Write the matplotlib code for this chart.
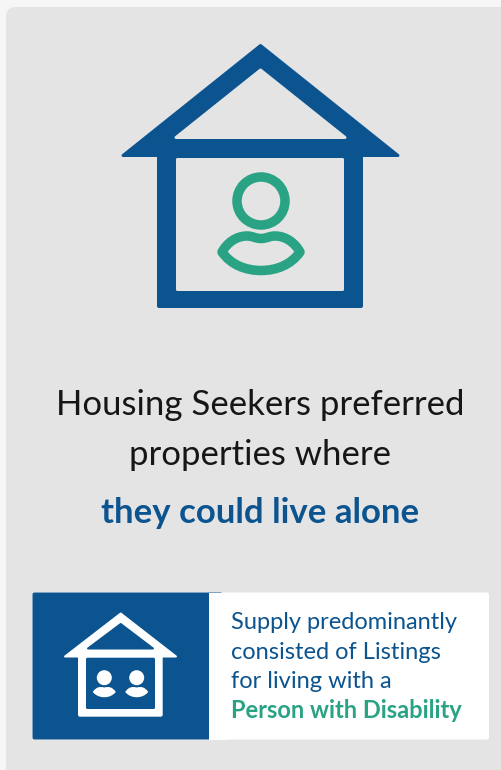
import matplotlib
matplotlib.use('Agg')
import matplotlib.pyplot as plt
from matplotlib.patches import FancyBboxPatch, Polygon, Rectangle, Circle, PathPatch
from matplotlib.path import Path

BLUE = '#0b548f'
GREEN = '#2aa384'
PANEL = '#e4e4e4'

main_lines = ['Housing Seekers preferred', 'properties where']
main_bold = 'they could live alone'
card_lines = ['Supply predominantly', 'consisted of Listings', 'for living with a']
card_bold = 'Person with Disability'

plt.rcParams['font.family'] = ['Lato', 'DejaVu Sans']

fig = plt.figure(figsize=(5.02, 7.70), dpi=100, facecolor='#f6f6f6')
ax = fig.add_axes([0, 0, 1, 1])
# axes in image pixels, y down
ax.set_xlim(0, 502)
ax.set_ylim(770, 0)
ax.axis('off')


def rounded(x, y, w, h, r, color):
    return FancyBboxPatch((x + r, y + r), w - 2 * r, h - 2 * r,
                          boxstyle='round,pad=%f,rounding_size=%f' % (r, r),
                          fc=color, ec='none')


def house(fill, hole, outer, inner, wall_out, wall_in, bar_y, in_bottom, bottom, round_px):
    lw = round_px * 0.72
    ax.add_patch(rounded(wall_out[0], bar_y - 8, wall_out[1] - wall_out[0], bottom - bar_y + 8, 2, fill))
    ax.add_patch(Polygon(outer, closed=True, fc=fill, ec=fill, lw=lw, joinstyle='round'))
    ax.add_patch(Polygon(inner, closed=True, fc=hole, ec=hole, lw=lw, joinstyle='round'))
    ax.add_patch(rounded(wall_in[0], bar_y, wall_in[1] - wall_in[0], in_bottom - bar_y, 1.5, hole))


ax.add_patch(rounded(6, 7, 520, 800, 10, PANEL))

# big house
house(BLUE, PANEL,
      [(260.5, 45.5), (123, 155.5), (398, 155.5)],
      [(260.5, 70), (176, 137.5), (345, 137.5)],
      (157, 363), (176, 344), 158, 291, 308, 3)

# person in the big house
ax.add_patch(Circle((261, 201), 24, fc='none', ec=GREEN, lw=9.5 * 0.72))
body = Path([(222, 252), (227, 243), (236, 236), (247, 236),
             (253, 236), (255, 238.5), (261, 238.5),
             (267, 238.5), (269, 236), (275, 236),
             (286, 236), (295, 243), (300, 252),
             (291, 265), (276, 270.5), (261, 270.5),
             (246, 270.5), (231, 265), (222, 252), (222, 252)],
            [Path.MOVETO] + [Path.CURVE4] * 18 + [Path.CLOSEPOLY])
ax.add_patch(PathPatch(body, fc='none', ec=GREEN, lw=9.5 * 0.72, joinstyle='round'))

# headline
ax.text(260.5, 415, main_lines[0], ha='center', va='baseline', fontsize=25, color='#161616')
ax.text(260.5, 465, main_lines[1], ha='center', va='baseline', fontsize=25, color='#161616')
ax.text(260.5, 523, main_bold, ha='center', va='baseline', fontsize=25, fontweight='bold', color=BLUE)

# bottom card
ax.add_patch(rounded(32.5, 592.5, 456.5, 147, 2, 'white'))
ax.add_patch(rounded(32.5, 592.5, 190, 147, 2, BLUE))
ax.add_patch(Rectangle((209, 592.5), 20, 147, fc='white', ec='none'))

house('white', BLUE,
      [(120.7, 613.5), (65, 656.5), (176, 656.5)],
      [(120.7, 624), (88, 648.5), (153, 648.5)],
      (78, 162.7), (86, 155), 657.7, 709, 716.7, 2)

for cx in [104.3, 136.7]:
    ax.add_patch(Circle((cx, 677.7), 7.5, fc='white', ec='none'))
    lens = Path([(cx - 11.5, 692), (cx - 8, 686.5), (cx - 4, 686.5), (cx, 687.5),
                 (cx + 4, 686.5), (cx + 8, 686.5), (cx + 11.5, 692),
                 (cx + 6, 699), (cx - 6, 699), (cx - 11.5, 692), (cx - 11.5, 692)],
                [Path.MOVETO] + [Path.CURVE4] * 9 + [Path.CLOSEPOLY])
    ax.add_patch(PathPatch(lens, fc='white', ec='none'))

ax.text(231, 629, card_lines[0], ha='left', va='baseline', fontsize=17, color=BLUE)
ax.text(231, 658.7, card_lines[1], ha='left', va='baseline', fontsize=17, color=BLUE)
ax.text(231, 688, card_lines[2], ha='left', va='baseline', fontsize=17, color=BLUE)
ax.text(231, 718, card_bold, ha='left', va='baseline', fontsize=17, fontweight='bold', color=GREEN)

fig.savefig('out.png', dpi=100, facecolor=fig.get_facecolor())
